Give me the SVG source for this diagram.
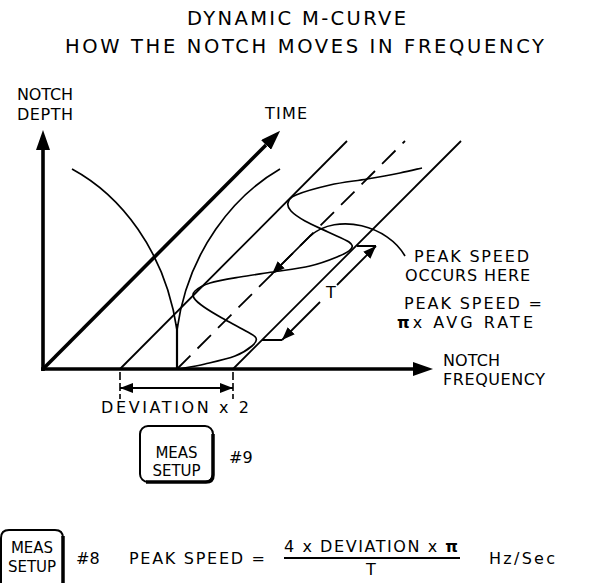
<svg xmlns="http://www.w3.org/2000/svg" width="598" height="583" viewBox="0 0 598 583">
<style>
.t{font-family:"DejaVu Sans","Liberation Sans",sans-serif;fill:#000;font-size:16px}
.ti{font-size:19.5px}
.k{font-size:15px}
.thin{fill:none;stroke:#000;stroke-width:1.8}
.curve{fill:none;stroke:#000;stroke-width:1.7}
.axis{fill:none;stroke:#000;stroke-width:3.6}
.dash{fill:none;stroke:#000;stroke-width:1.8;stroke-dasharray:19 10}
.ext{fill:none;stroke:#000;stroke-width:1.6;stroke-dasharray:8 3}
.key{fill:none;stroke:#000;stroke-width:2}
.keyr{fill:none;stroke:#000;stroke-width:3.5}
.pi{font-weight:bold}
</style>
<defs>
<marker id="big" markerUnits="userSpaceOnUse" viewBox="0 0 20 14" markerWidth="20" markerHeight="14" refX="0" refY="7" orient="auto"><path d="M0,0 L20,7 L0,14 z" fill="#000"/></marker>
<marker id="sm" markerUnits="userSpaceOnUse" viewBox="0 0 13 10" markerWidth="13" markerHeight="10" refX="13" refY="5" orient="auto-start-reverse"><path d="M0,0 L13,5 L0,10 z" fill="#000"/></marker>
</defs>
<rect width="598" height="583" fill="#fff"/>

<g id="title">
<text class="t ti" x="187" y="25" textLength="219" lengthAdjust="spacing">DYNAMIC M-CURVE</text>
<text class="t ti" x="65" y="53" textLength="479" lengthAdjust="spacing">HOW THE NOTCH MOVES IN FREQUENCY</text>
</g>

<g id="axes">
<path class="axis" d="M43,371 L43,150" marker-end="url(#big)"/>
<path class="axis" d="M41,369 L413,369" marker-end="url(#big)"/>
<path class="axis" d="M43,369 L266,145" marker-end="url(#big)"/>
</g>

<g id="labels">
<text class="t" x="17" y="100" textLength="56" lengthAdjust="spacing">NOTCH</text>
<text class="t" x="17" y="119.5" textLength="56" lengthAdjust="spacing">DEPTH</text>
<text class="t" x="265" y="119" textLength="42" lengthAdjust="spacing">TIME</text>
<text class="t" x="443" y="366" textLength="57" lengthAdjust="spacing">NOTCH</text>
<text class="t" x="443" y="385" textLength="102" lengthAdjust="spacing">FREQUENCY</text>
<text class="t" x="414" y="262" textLength="115" lengthAdjust="spacing">PEAK SPEED</text>
<text class="t" x="405" y="281" textLength="125" lengthAdjust="spacing">OCCURS HERE</text>
<text class="t" x="404" y="309" textLength="138" lengthAdjust="spacing">PEAK SPEED =</text>
<text class="t" x="397" y="328" textLength="136" lengthAdjust="spacing"><tspan class="pi">π</tspan>x AVG RATE</text>
<text class="t" x="326" y="298">T</text>
<text class="t" x="101" y="413" textLength="148" lengthAdjust="spacing">DEVIATION x 2</text>
</g>

<g id="guides">
<path class="thin" d="M120,369 L347,141"/>
<path class="dash" d="M177,369 L405,141"/>
<path class="thin" d="M233,369 L461,141"/>
</g>

<g id="m-curve">
<path class="curve" d="M72,169 C120,195 165,250 177,330"/>
<path class="curve" d="M280,169 C235,195 188,250 177,330"/>
<path class="thin" d="M177,324 L177,369" style="stroke-width:2.2"/>
</g>

<g id="trajectory">
<path class="curve" d="M179,369 C183.3,368.2 195.7,366.2 205,364 C214.3,361.8 227.2,359 235,356 C242.8,353 248.5,349 252,346 C255.5,343 257.3,340.7 256,338 C254.7,335.3 249.7,333.3 244,330 C238.3,326.7 228.7,321.8 222,318 C215.3,314.2 208.7,310.3 204,307 C199.3,303.7 195.5,300.7 194,298 C192.5,295.3 192.3,293.5 195,291 C197.7,288.5 202.5,285.3 210,283 C217.5,280.7 229.5,278.8 240,277 C250.5,275.2 261.3,273.8 273,272 C284.7,270.2 299.3,268.5 310,266 C320.7,263.5 330.2,259.8 337,257 C343.8,254.2 349,251.5 351,249 C353,246.5 352.8,244.8 349,242 C345.2,239.2 335.3,235.5 328,232 C320.7,228.5 311.2,224.5 305,221 C298.8,217.5 293.8,214 291,211 C288.2,208 287.2,205.7 288,203 C288.8,200.3 289,198 296,195 C303,192 318.2,187.7 330,185 C341.8,182.3 355.3,181 367,179 C378.7,177 390.8,174.8 400,173 C409.2,171.2 418.3,168.8 422,168"/>
</g>

<g id="connectors">
<path class="curve" d="M405,256 C388,226 338,212 310,236 L272,274" marker-end="url(#sm)"/>
<path class="thin" d="M262,340 H282 M357,246 H376"/>
<path class="thin" d="M337,285 L376,246" marker-end="url(#sm)"/>
<path class="thin" d="M320,302 L282,340" marker-end="url(#sm)"/>
<path class="ext" d="M120,372 V399 M233,372 V399"/>
<path class="thin" d="M120,388 L233,388" marker-start="url(#sm)" marker-end="url(#sm)"/>
</g>

<g id="meas-setup-9">
<rect class="key" x="140" y="426" width="73" height="56" rx="8"/>
<path class="keyr" d="M213,434 V475 Q213,482 206,482 H146"/>
<text class="t k" x="176.5" y="458" text-anchor="middle">MEAS</text>
<text class="t k" x="176.5" y="476" text-anchor="middle">SETUP</text>
<text class="t" x="229" y="463">#9</text>
</g>

<g id="meas-setup-8">
<path class="key" d="M1,590 V538 Q1,530 9,530 H55 Q63,530 63,538"/>
<path class="keyr" d="M63,536 V590"/>
<text class="t k" x="32" y="553" text-anchor="middle">MEAS</text>
<text class="t k" x="32" y="572" text-anchor="middle">SETUP</text>
<text class="t" x="76" y="564">#8</text>
</g>

<g id="formula">
<text class="t" x="129" y="564" textLength="136" lengthAdjust="spacing">PEAK SPEED =</text>
<text class="t" x="284" y="552" textLength="174" lengthAdjust="spacing">4 x DEVIATION x <tspan class="pi">π</tspan></text>
<path class="thin" d="M284,558 H460"/>
<text class="t" x="371" y="575" text-anchor="middle">T</text>
<text class="t" x="489" y="564" textLength="66" lengthAdjust="spacing">Hz/Sec</text>
</g>
</svg>
